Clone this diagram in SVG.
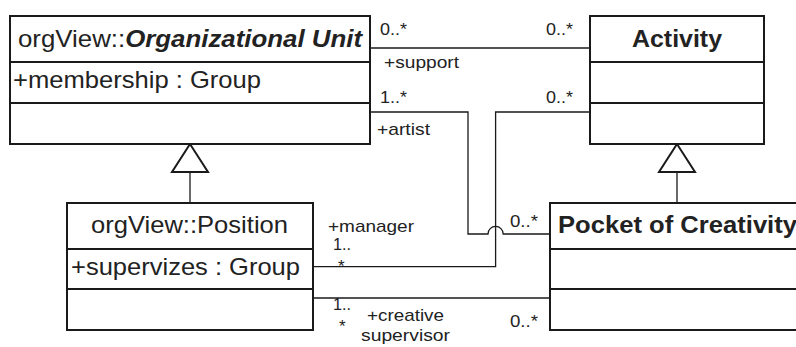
<svg xmlns="http://www.w3.org/2000/svg" width="796" height="347" viewBox="0 0 796 347">
  <style>
    .box { fill: #ffffff; stroke: #1a1a1a; stroke-width: 2; }
    .div { stroke: #1a1a1a; stroke-width: 2; }
    .conn { fill: none; stroke: #1a1a1a; stroke-width: 1.3; }
    .gen { fill: #ffffff; stroke: #1a1a1a; stroke-width: 2; }
    .t { font-family: "Liberation Sans", Arial, sans-serif; font-size: 24px; fill: #222222; }
    .b { font-weight: bold; }
    .bi { font-weight: bold; font-style: italic; }
    .s { font-family: "Liberation Sans", Arial, sans-serif; font-size: 17px; fill: #222222; }
  </style>

  <!-- associations -->
  <g id="connectors">
    <!-- Organizational Unit +support / Activity -->
    <line class="conn" x1="370" y1="48" x2="590" y2="48"/>
    <!-- Organizational Unit +artist / Pocket of Creativity (hops over the manager line) -->
    <path class="conn" d="M370 112 H468 V234 H488 A7.6 7.6 0 0 1 503.2 234 H550"/>
    <!-- Activity / Position +manager -->
    <path class="conn" d="M590 112 H495.6 V266.7 H314"/>
    <!-- Position +creative supervisor / Pocket of Creativity -->
    <line class="conn" x1="314" y1="298" x2="550" y2="298"/>

    <!-- generalisations -->
    <line class="conn" x1="190" y1="172" x2="190" y2="203"/>
    <polygon class="gen" points="190,144 172,172 208,172"/>
    <line class="conn" x1="677" y1="172" x2="677" y2="203"/>
    <polygon class="gen" points="677,144 659,172 695,172"/>

    <!-- role names and multiplicities -->
    <text class="s" x="380" y="35" textLength="27" lengthAdjust="spacingAndGlyphs">0..*</text>
    <text class="s" x="546" y="35" textLength="27" lengthAdjust="spacingAndGlyphs">0..*</text>
    <text class="s" x="384" y="68" textLength="75" lengthAdjust="spacingAndGlyphs">+support</text>
    <text class="s" x="380" y="103" textLength="27" lengthAdjust="spacingAndGlyphs">1..*</text>
    <text class="s" x="546" y="103" textLength="27" lengthAdjust="spacingAndGlyphs">0..*</text>
    <text class="s" x="377" y="135" textLength="53" lengthAdjust="spacingAndGlyphs">+artist</text>
    <text class="s" x="328" y="232" textLength="86" lengthAdjust="spacingAndGlyphs">+manager</text>
    <text class="s" x="333" y="250" textLength="18" lengthAdjust="spacingAndGlyphs">1..</text>
    <text class="s" x="338" y="272">*</text>
    <text class="s" x="510" y="227" textLength="28" lengthAdjust="spacingAndGlyphs">0..*</text>
    <text class="s" x="333" y="310" textLength="18" lengthAdjust="spacingAndGlyphs">1..</text>
    <text class="s" x="339" y="332">*</text>
    <text class="s" x="367" y="321" textLength="77" lengthAdjust="spacingAndGlyphs">+creative</text>
    <text class="s" x="361" y="341" textLength="89" lengthAdjust="spacingAndGlyphs">supervisor</text>
    <text class="s" x="510" y="327" textLength="28" lengthAdjust="spacingAndGlyphs">0..*</text>
  </g>

  <!-- classes -->
  <g id="organizational-unit">
    <rect class="box" x="10" y="16" width="360" height="128"/>
    <line class="div" x1="10" y1="62" x2="370" y2="62"/>
    <line class="div" x1="10" y1="103" x2="370" y2="103"/>
    <text class="t" x="18" y="47" textLength="344" lengthAdjust="spacingAndGlyphs">orgView::<tspan class="bi">Organizational Unit</tspan></text>
    <text class="t" x="13" y="88" textLength="248" lengthAdjust="spacingAndGlyphs">+membership : Group</text>
  </g>

  <g id="activity">
    <rect class="box" x="590" y="16" width="174" height="128"/>
    <line class="div" x1="590" y1="62" x2="764" y2="62"/>
    <line class="div" x1="590" y1="103" x2="764" y2="103"/>
    <text class="t b" x="632" y="47" textLength="90" lengthAdjust="spacingAndGlyphs">Activity</text>
  </g>

  <g id="position">
    <rect class="box" x="67" y="203" width="246" height="127"/>
    <line class="div" x1="67" y1="249" x2="313" y2="249"/>
    <line class="div" x1="67" y1="289" x2="313" y2="289"/>
    <text class="t" x="91" y="233" textLength="197" lengthAdjust="spacingAndGlyphs">orgView::Position</text>
    <text class="t" x="71" y="275" textLength="229" lengthAdjust="spacingAndGlyphs">+supervizes : Group</text>
  </g>

  <g id="pocket-of-creativity">
    <rect class="box" x="550" y="203" width="260" height="127"/>
    <line class="div" x1="550" y1="249" x2="810" y2="249"/>
    <line class="div" x1="550" y1="289" x2="810" y2="289"/>
    <text class="t b" x="558" y="233" textLength="239" lengthAdjust="spacingAndGlyphs">Pocket of Creativity</text>
  </g>
</svg>
